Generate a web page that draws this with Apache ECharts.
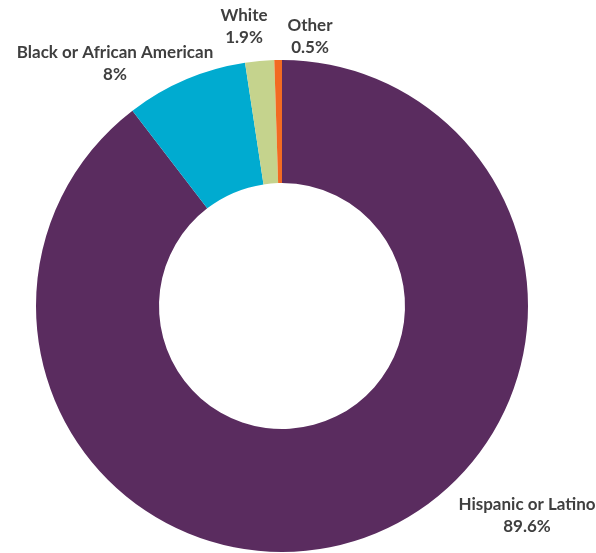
<!DOCTYPE html>
<html>
<head>
<meta charset="utf-8">
<script src="https://cdn.jsdelivr.net/npm/echarts@6/dist/echarts.min.js"></script>
<style>html,body{margin:0;padding:0;background:#fff}#c{width:596px;height:553px}</style>
</head>
<body>
<div id="c"></div>
<script>
const categories = ['Hispanic or Latino', 'Black or African American', 'White', 'Other'];
const values = [89.6, 8, 1.9, 0.5];
const valueLabels = ['89.6%', '8%', '1.9%', '0.5%'];
const colors = ['#5A2C5F', '#00ABD0', '#C5D38D', '#F26A22'];
const labelPos = [[527, 516], [115, 64], [244, 27], [310, 37]];

const chart = echarts.init(document.getElementById('c'), null, {renderer: 'canvas'});
chart.setOption({
  animation: false,
  series: [{
    type: 'pie',
    center: [282, 306],
    radius: [123, 246],
    startAngle: 90,
    clockwise: true,
    avoidLabelOverlap: false,
    data: categories.map((n, i) => ({
      name: n, value: values[i],
      itemStyle: {color: colors[i]}
    })),
    label: {
      show: true,
      position: 'outside',
      formatter: p => p.name + '\n' + valueLabels[p.dataIndex],
      fontFamily: 'Lato',
      fontWeight: 'bold',
      fontSize: 17,
      lineHeight: 22,
      color: '#3f3f3f',
      align: 'center'
    },
    labelLine: {show: false},
    labelLayout: p => ({
      x: labelPos[p.dataIndex][0],
      y: labelPos[p.dataIndex][1],
      align: 'center',
      verticalAlign: 'middle'
    }),
    emphasis: {disabled: true}
  }]
});
</script>
</body>
</html>
